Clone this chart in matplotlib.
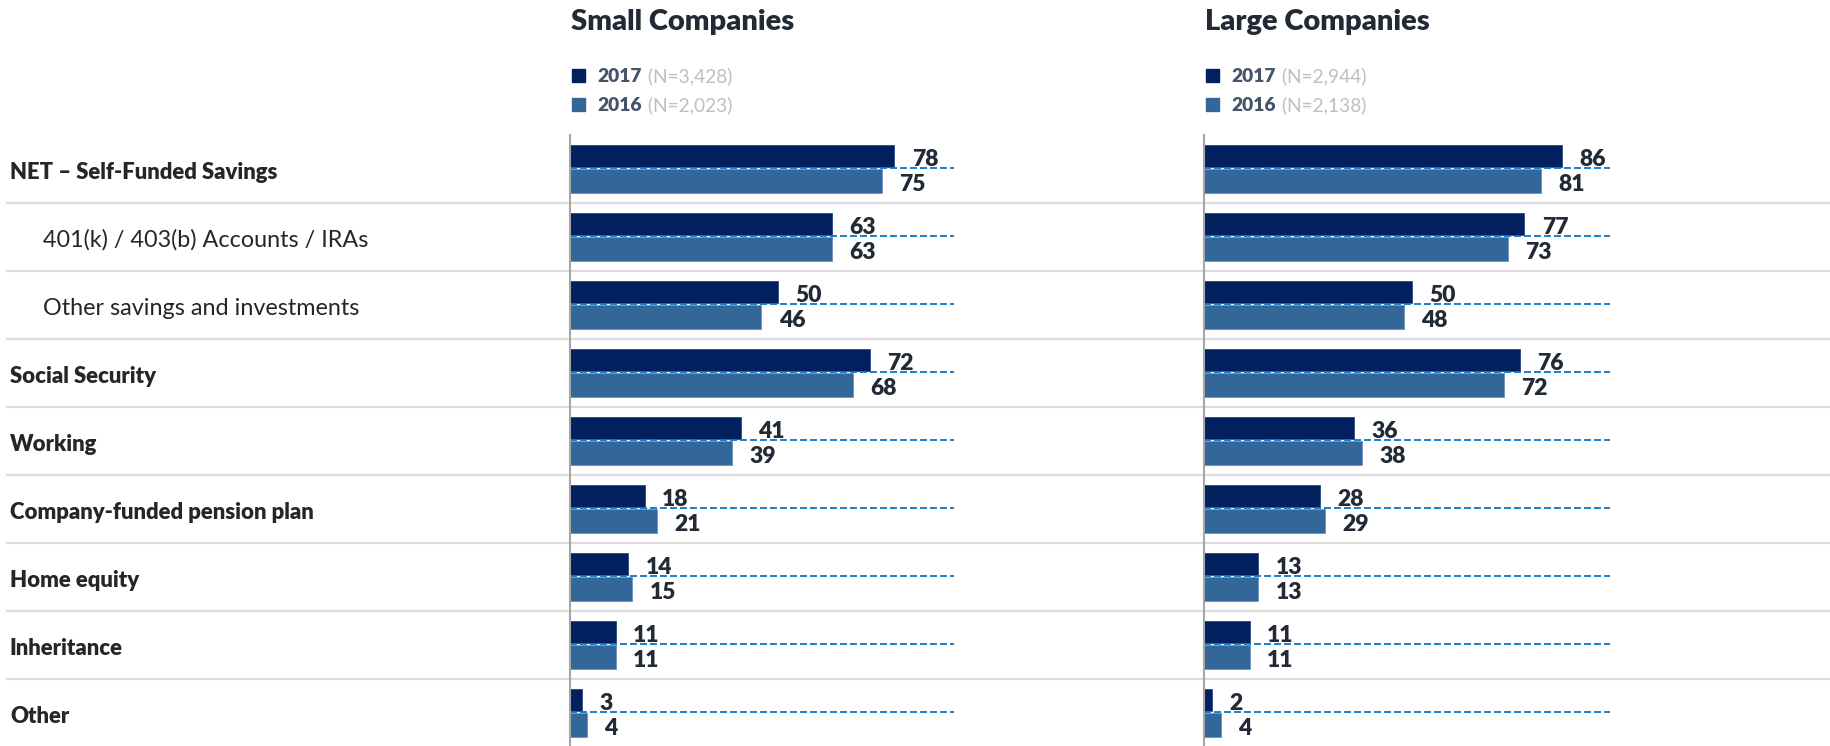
import matplotlib
matplotlib.use("Agg")
import matplotlib.pyplot as plt
from matplotlib.patches import Rectangle
from matplotlib.lines import Line2D

plt.rcParams['font.family'] = ['Lato', 'DejaVu Sans']
plt.rcParams['lines.scale_dashes'] = False

# ---- data -------------------------------------------------------------
categories = [
    "NET \u2013 Self-Funded Savings",
    "401(k) / 403(b) Accounts / IRAs",
    "Other savings and investments",
    "Social Security",
    "Working",
    "Company-funded pension plan",
    "Home equity",
    "Inheritance",
    "Other",
]
sub_items = [False, True, True, False, False, False, False, False, False]

small_2017 = [78, 63, 50, 72, 41, 18, 14, 11, 3]
small_2016 = [75, 63, 46, 68, 39, 21, 15, 11, 4]
large_2017 = [86, 77, 50, 76, 36, 28, 13, 11, 2]
large_2016 = [81, 73, 48, 72, 38, 29, 13, 11, 4]

panel_titles = ["Small Companies", "Large Companies"]
years = ["2017", "2016"]
small_n = ["(N=3,428)", "(N=2,023)"]
large_n = ["(N=2,944)", "(N=2,138)"]

# ---- style ------------------------------------------------------------
W, H = 1831, 746
C2017 = "#021F5E"
C2016 = "#336699"
DASH = "#0A74C4"
SEP = "#DCDCDC"
AXIS = "#A6A6A6"
DARK = "#222A35"
LEG_DARK = "#44546A"
LEG_GRAY = "#BFBFBF"
HEAVY = 800

fig = plt.figure(figsize=(W / 100, H / 100), dpi=100)


def fx(x):
    return x / W


def fy(y):
    return 1 - y / H


top_px = 135
row_px = 68
n = len(categories)
ax_h = (n * row_px) / H
ax_w = 416 / W  # 0..100 scale

# row separators across the whole figure
for i in range(1, n):
    y = top_px + i * row_px
    fig.add_artist(Line2D([fx(7), 1.0], [fy(y), fy(y)], color=SEP, lw=1.6,
                          transform=fig.transFigure, zorder=0))

# category labels
for i, (cat, sub) in enumerate(zip(categories, sub_items)):
    yc = top_px + i * row_px + row_px / 2
    fig.text(fx(43 if sub else 10), fy(yc + 10), cat,
             ha='left', va='baseline', fontsize=16.8 if sub else 15.9,
             fontweight='normal' if sub else HEAVY, color="#262626")

panels = [
    (570, small_2017, small_2016, small_n, 92.2),
    (1204, large_2017, large_2016, large_n, 97.6),
]

for (x0, v17, v16, nlabels, dash_end), title in zip(panels, panel_titles):
    ax = fig.add_axes([fx(x0), 0, ax_w, ax_h])
    ax.set_xlim(0, 100)
    ax.set_ylim(n, 0)
    ax.axis('off')

    ypos = [i + 0.5 for i in range(n)]
    y17 = [y - 0.18 for y in ypos]
    y16 = [y + 0.19 for y in ypos]
    ax.barh(y17, v17, height=0.33, color=C2017, edgecolor="#2A4A85",
            linewidth=0.6, zorder=2)
    ax.barh(y16, v16, height=0.35, color=C2016, edgecolor="#6F94BF",
            linewidth=0.6, zorder=2)

    # dashed guide between the two bars of each row
    for y in ypos:
        ax.plot([0, dash_end], [y, y], color=DASH, lw=1.3,
                linestyle=(0, (5.0, 2.2)), zorder=3, solid_capstyle='butt')

    # value labels
    for ys, vs in ((y17, v17), (y16, v16)):
        for y, v in zip(ys, vs):
            ax.annotate(str(v), xy=(v, y), xytext=(12.5, -7.2),
                        textcoords='offset points', ha='left',
                        va='baseline', fontsize=16.5, fontweight=HEAVY,
                        color=DARK, zorder=4)

    # vertical axis line
    fig.add_artist(Line2D([fx(x0), fx(x0)], [0, fy(top_px)], color=AXIS,
                          lw=1.5, transform=fig.transFigure, zorder=5))

    # panel title
    fig.text(fx(x0 + 1), fy(30), title, ha='left', va='baseline',
             fontsize=21, fontweight=HEAVY, color=DARK)

    # legend
    for k, (yr, col, nl) in enumerate(zip(years, [C2017, C2016], nlabels)):
        base = 82 + k * 29
        fig.add_artist(Rectangle((fx(x0 + 2), fy(base)), 13 / W, 13 / H,
                                 transform=fig.transFigure, color=col))
        t = fig.text(fx(x0 + 27), fy(base), yr, ha='left', va='baseline',
                     fontsize=13.8, fontweight=HEAVY, color=LEG_DARK)
        fig.text(0, 0, "")
        ax.annotate(" " + nl, xy=(1, 0), xycoords=t, xytext=(1, 0),
                    textcoords='offset points', ha='left', va='bottom',
                    fontsize=13.8, color=LEG_GRAY, annotation_clip=False)

fig.savefig("out.png", dpi=100)
